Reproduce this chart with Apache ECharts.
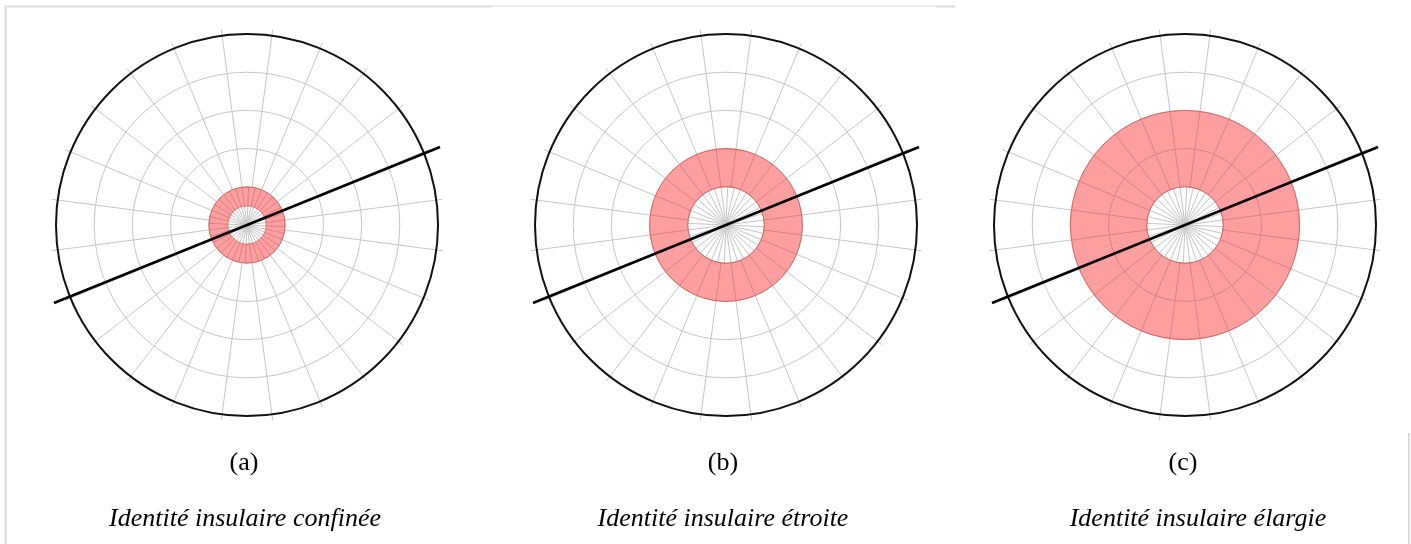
<!DOCTYPE html>
<html>
<head>
<meta charset="utf-8">
<script src="https://cdn.jsdelivr.net/npm/echarts@6/dist/echarts.min.js"></script>
<style>
html,body{margin:0;padding:0;background:#fff;}
#chart{width:1411px;height:544px;}
</style>
</head>
<body>
<div id="chart"></div>
<script>
// ---- data ----
const panelLabels = ['(a)', '(b)', '(c)'];
const captions = ['Identité insulaire confinée', 'Identité insulaire étroite', 'Identité insulaire élargie'];
const innerRadius = [0.5, 1, 1];      // inner edge of red annulus (ring units)
const outerRadius = [1, 2, 3];        // outer edge of red annulus (ring units)
const ringMax = 5;                    // number of concentric rings
const lineAngle = [75.5, 75.5, 75.5]; // angle value of the black axis line (deg, from start angle, clockwise)
const lineReach = [5.45, 5.45, 5.45]; // half-length of the black line in ring units

// ---- layout ----
const centersX = [247, 726, 1185];
const centerY = 225;
const R = 191;
const unit = R / ringMax;
const reachMax = 6;                   // extent of the hidden polar that carries the black line
const labelX = [244, 723, 1183];
const captionX = [245, 723, 1198];
const gridColor = '#c6c6c6';
const serif = '"Liberation Serif", "Times New Roman", serif';

const polar = [], angleAxis = [], radiusAxis = [], series = [], graphic = [];
const hiddenAxis = { axisLine: { show: false }, axisTick: { show: false }, axisLabel: { show: false }, splitLine: { show: false } };

for (let k = 0; k < 3; k++) {
  const c = [centersX[k], centerY];
  const base = polar.length;
  // A: outer bands grid (24 rays), rings, ticks
  polar.push({ center: c, radius: [unit, R] });
  angleAxis.push({
    polarIndex: base, type: 'value', min: 0, max: 360, interval: 15, startAngle: 97.5,
    axisLine: { show: false },
    axisTick: { show: true, length: 6, lineStyle: { color: gridColor, width: 1 } },
    axisLabel: { show: false },
    splitLine: { show: true, lineStyle: { color: gridColor, width: 1 } }
  });
  radiusAxis.push({
    polarIndex: base, type: 'value', min: 1, max: ringMax, interval: 1,
    axisLine: { show: false }, axisTick: { show: false }, axisLabel: { show: false },
    splitLine: { show: true, lineStyle: { color: gridColor, width: 1 } }
  });
  // B: annulus + black outer circle
  polar.push({ center: c, radius: [0, R] });
  angleAxis.push({
    polarIndex: base + 1, type: 'category', data: ['anneau'], startAngle: 90,
    axisLine: { show: true, lineStyle: { color: '#111', width: 2 } },
    axisTick: { show: false }, axisLabel: { show: false }, splitLine: { show: false }
  });
  radiusAxis.push(Object.assign({ polarIndex: base + 1, type: 'value', min: 0, max: ringMax }, hiddenAxis));
  // C: innermost band (36 rays)
  polar.push({ center: c, radius: [0, unit] });
  angleAxis.push({
    polarIndex: base + 2, type: 'value', min: 0, max: 360, interval: 10, startAngle: 97.5,
    axisLine: { show: false }, axisTick: { show: false }, axisLabel: { show: false },
    splitLine: { show: true, lineStyle: { color: gridColor, width: 1 } }
  });
  radiusAxis.push(Object.assign({ polarIndex: base + 2, type: 'value', min: 0, max: 1 }, hiddenAxis));
  // D: hidden, larger polar carrying the black line (so it may extend past the circle)
  polar.push({ center: c, radius: [0, unit * reachMax] });
  angleAxis.push(Object.assign({ polarIndex: base + 3, type: 'value', min: 0, max: 360, startAngle: 97.5 }, hiddenAxis));
  radiusAxis.push(Object.assign({ polarIndex: base + 3, type: 'value', min: 0, max: reachMax }, hiddenAxis));

  series.push({
    type: 'bar', coordinateSystem: 'polar', polarIndex: base + 1, stack: 'ring' + k,
    barCategoryGap: '0%', silent: true,
    itemStyle: { color: 'rgba(0,0,0,0)' },
    data: [innerRadius[k]]
  });
  series.push({
    type: 'bar', coordinateSystem: 'polar', polarIndex: base + 1, stack: 'ring' + k,
    barCategoryGap: '0%', silent: true,
    itemStyle: { color: 'rgba(255,40,40,0.45)', borderColor: 'rgba(200,30,30,0.45)', borderWidth: 1 },
    data: [outerRadius[k] - innerRadius[k]]
  });
  series.push({
    type: 'line', coordinateSystem: 'polar', polarIndex: base + 3, clip: false,
    symbol: 'none', silent: true, z: 5,
    lineStyle: { color: '#000', width: 2.6 },
    data: [[lineReach[k], lineAngle[k]], [lineReach[k], lineAngle[k] + 180]]
  });

  graphic.push({
    type: 'text', x: labelX[k], y: 463,
    style: { text: panelLabels[k], textAlign: 'center', textVerticalAlign: 'middle',
      font: '26px ' + serif, fill: '#000' }
  });
  graphic.push({
    type: 'text', x: captionX[k], y: 519,
    style: { text: captions[k], textAlign: 'center', textVerticalAlign: 'middle',
      font: 'italic 26px ' + serif, fill: '#000' }
  });
}

// light frame lines
const frame = '#d9d9d9';
graphic.push({ type: 'line', shape: { x1: 5, y1: 6.5, x2: 492, y2: 6.5 }, style: { stroke: frame, lineWidth: 2 } });
graphic.push({ type: 'line', shape: { x1: 492, y1: 6, x2: 936, y2: 6 }, style: { stroke: frame, lineWidth: 1 } });
graphic.push({ type: 'line', shape: { x1: 936, y1: 6.5, x2: 955, y2: 6.5 }, style: { stroke: frame, lineWidth: 2 } });
graphic.push({ type: 'line', shape: { x1: 5.5, y1: 6, x2: 5.5, y2: 544 }, style: { stroke: frame, lineWidth: 2 } });
graphic.push({ type: 'line', shape: { x1: 1409, y1: 433, x2: 1409, y2: 544 }, style: { stroke: frame, lineWidth: 2 } });

const chart = echarts.init(document.getElementById('chart'), null, { renderer: 'canvas' });
chart.setOption({
  animation: false,
  backgroundColor: '#fff',
  polar, angleAxis, radiusAxis, series, graphic
});
</script>
</body>
</html>
